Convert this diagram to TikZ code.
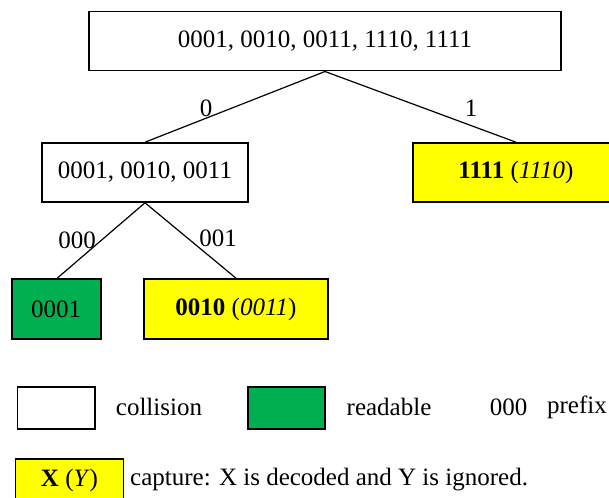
\documentclass[tikz,border=0pt]{standalone}
\usepackage{fontspec}
\setmainfont{Liberation Serif}
\definecolor{capyellow}{HTML}{FFFF00}
\definecolor{readgreen}{HTML}{00B050}
\begin{document}
\begin{tikzpicture}[x=1pt,y=-1pt,
  font=\fontsize{25}{30}\selectfont,
  box/.style={draw=black,line width=1.6pt,inner sep=0pt,minimum height=59pt,anchor=center},
  legbox/.style={draw=black,line width=1.6pt,inner sep=0pt,minimum height=42pt,anchor=center},
  collide/.style={box,fill=white},
  readbox/.style={box,fill=readgreen},
  capbox/.style={box,fill=capyellow},
  edge/.style={draw=black,line width=1.2pt},
  lbl/.style={inner sep=0pt,anchor=center}
]
\useasboundingbox (0,0) rectangle (609,497);
\fill[white] (0,0) rectangle (609,497);
% tree nodes
\node[collide,minimum width=472pt] (root) at (325,41.2) {0001, 0010, 0011, 1110, 1111};
\node[collide,minimum width=206.5pt] (left) at (145,172.5) {0001, 0010, 0011};
\node[capbox,minimum width=206pt] (right) at (516,172.5) {\textbf{1111} (\textit{1110})};
\node[readbox,minimum width=89pt,minimum height=60pt] (g1) at (56.2,309) {0001};
\node[capbox,minimum width=184pt,minimum height=60pt] (y1) at (236,309) {\textbf{0010} (\textit{0011})};
% connectors
\draw[edge] (root.south) -- (left.north);
\draw[edge] (root.south) -- (right.north);
\draw[edge] (left.south) -- ([xshift=1pt]g1.north);
\draw[edge] (left.south) -- (y1.north);
% edge labels
\node[lbl] (l0) at (206,108) {0};
\node[lbl] (l1) at (471,108) {1};
\node[lbl] (l000) at (77,240) {000};
\node[lbl] (l001) at (218,238) {001};
% legend
\node[legbox,fill=white,minimum width=77.5pt] (legc) at (56.2,408) {};
\node[lbl] (legct) at (159,407) {collision};
\node[legbox,fill=readgreen,minimum width=77.5pt] (legr) at (286.5,408) {};
\node[lbl] (legrt) at (389,407) {readable};
\node[lbl] (legp) at (508.5,407) {000};
\node[lbl] (legpt) at (577,407) {prefix};
\node[legbox,fill=capyellow,minimum width=108pt] (legy) at (69.5,480) {\textbf{X} (\textit{Y})};
\node[inner sep=0pt,anchor=west] (legyt) at (130,480) {capture: X is decoded and Y is ignored.};
\end{tikzpicture}
\end{document}
